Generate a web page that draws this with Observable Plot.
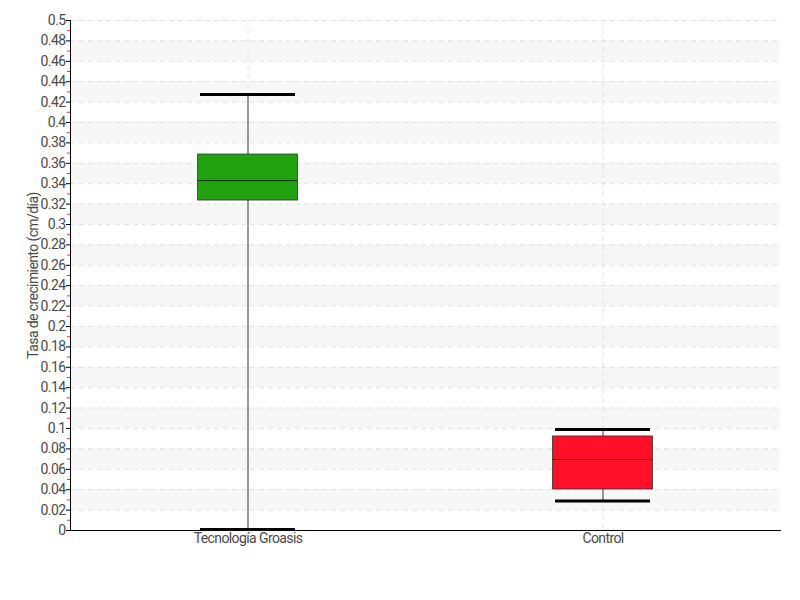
<!DOCTYPE html>
<html><head><meta charset="utf-8">
<script src="https://cdn.jsdelivr.net/npm/d3@7"></script>
<script src="https://cdn.jsdelivr.net/npm/@observablehq/plot@0.6"></script>
<style>body{margin:0;background:#fff}</style>
</head><body><div id="chart"></div>
<script>
const categories = ["Tecnología Groasis", "Control"];
const whiskerLow = [0.001, 0.029];
const q1 = [0.3235, 0.0402];
const median = [0.343, 0.0696];
const q3 = [0.3686, 0.0922];
const whiskerHigh = [0.4275, 0.099];
const colors = ["#21a30f", "#ff1028"];
const majorTicks = d3.range(0, 0.5001, 0.02).map(v => +v.toFixed(2));
const minorTicks = d3.range(0.01, 0.5, 0.02).map(v => +v.toFixed(2));
const stripes = d3.range(0.02, 0.48, 0.04).map(v => ({y1: +v.toFixed(2), y2: +(v + 0.02).toFixed(2)}));

const boxes = categories.map((c, i) => ({
  cat: c, lo: whiskerLow[i], q1: q1[i], med: median[i], q3: q3[i], hi: whiskerHigh[i], color: colors[i]
}));

const font = "Roboto, sans-serif";

const chart = Plot.plot({
  width: 800, height: 600,
  marginLeft: 70, marginRight: 20, marginTop: 20, marginBottom: 70,
  style: {fontFamily: font, fontSize: "14px", color: "#4a4a4a", background: "#fff", fontWeight: 400, letterSpacing: "-0.6px"},
  x: {type: "band", domain: categories, padding: 0},
  y: {domain: [0, 0.5]},
  marks: [
    Plot.rect(stripes, {y1: "y1", y2: "y2", fill: "#f7f7f7"}),
    Plot.gridY(majorTicks, {stroke: "#e2e2e2", strokeOpacity: 1, strokeDasharray: "5,4"}),
    Plot.gridX(categories, {stroke: "#e2e2e2", strokeOpacity: 1, strokeDasharray: "5,4"}),
    Plot.ruleX(boxes, {x: "cat", y1: "lo", y2: "hi", stroke: "#777", strokeWidth: 1.5}),
    Plot.barY(boxes, {x: "cat", y1: "q1", y2: "q3", fill: "color", stroke: "#333", strokeOpacity: 0.8, insetLeft: 127.5, insetRight: 127.5}),
    Plot.tickY(boxes, {x: "cat", y: "med", stroke: "#222", strokeWidth: 1, insetLeft: 128, insetRight: 128}),
    Plot.tickY(boxes, {x: "cat", y: "hi", stroke: "#000", strokeWidth: 3, insetLeft: 130, insetRight: 130}),
    Plot.tickY(boxes, {x: "cat", y: "lo", stroke: "#000", strokeWidth: 3, insetLeft: 130, insetRight: 130}),
    Plot.axisY(minorTicks, {tickFormat: () => "", stroke: "#e33", tickSize: 3, label: null}),
    Plot.axisY(majorTicks, {tickFormat: d3.format("~g"), tickSize: 4, tickPadding: 1, stroke: "#000", fill: "#4a4a4a", fontSize: 14,
      label: "Tasa de crecimiento (cm/día)", labelAnchor: "center", labelArrow: "none", labelOffset: 42}),
    Plot.axisX({tickSize: 0, tickPadding: 3, fill: "#4a4a4a", fontSize: 14, label: null}),
    Plot.frame({anchor: "left", stroke: "#000"}),
    Plot.frame({anchor: "bottom", stroke: "#000"})
  ]
});
document.getElementById("chart").appendChild(chart);
</script></body></html>
